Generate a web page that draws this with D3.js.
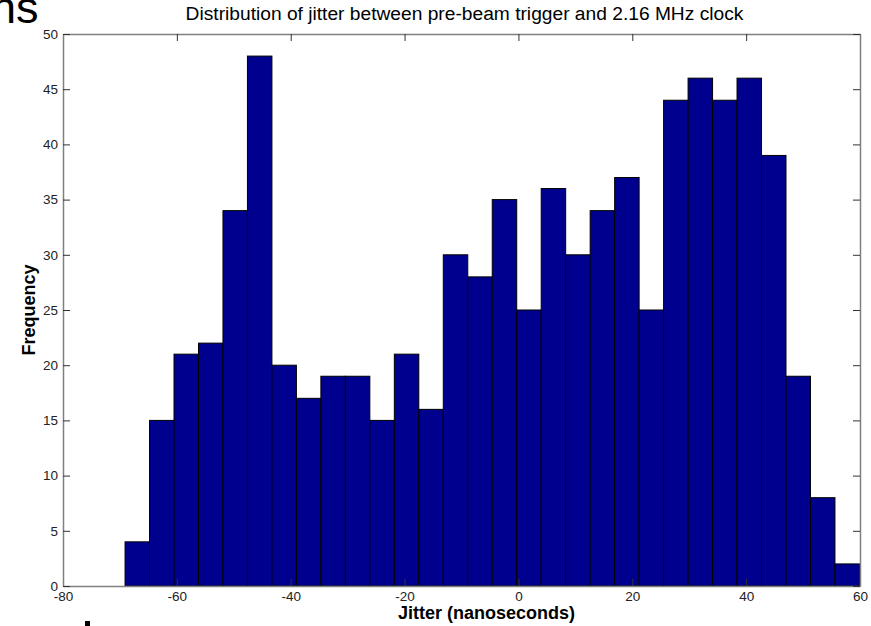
<!DOCTYPE html>
<html>
<head>
<meta charset="utf-8">
<script src="https://cdn.jsdelivr.net/npm/d3@7"></script>
<style>
  body { margin: 0; background: #fff; overflow: hidden; }
  svg { display: block; font-family: Arial, "Liberation Sans", sans-serif; }
</style>
</head>
<body>
<div class="div-chart"></div>
<script>
// histogram counts, 30 bins
const counts = [4, 15, 21, 22, 34, 48, 20, 17, 19, 19, 15, 21, 16, 30, 28,
                35, 25, 36, 30, 34, 37, 25, 44, 46, 44, 46, 39, 19, 8, 2];
const binStart = -69.1;
const binWidth = 4.3;
const xTicks = [-80, -60, -40, -20, 0, 20, 40, 60];
const yTicks = [0, 5, 10, 15, 20, 25, 30, 35, 40, 45, 50];

const width = 871, height = 626;
const margin = {left: 63, right: 11, top: 34, bottom: 40};
const innerWidth = width - margin.left - margin.right;
const innerHeight = height - margin.top - margin.bottom;

const svg = d3.select('.div-chart')
    .append('svg')
    .attr('width', width)
    .attr('height', height);

// cut-off slide text in the corner
svg.append('text')
    .attr('x', -9).attr('y', 23)
    .attr('font-size', 45)
    .text('ns');

svg.append('rect')
    .attr('x', 85).attr('y', 621).attr('width', 5).attr('height', 5)
    .attr('fill', '#000');

const g = svg.append('g')
    .attr('transform', `translate(${margin.left},${margin.top})`);

const xScale = d3.scaleLinear().domain([-80, 60]).range([0, innerWidth]);
const yScale = d3.scaleLinear().domain([0, 50]).range([innerHeight, 0]);

// bars
g.selectAll('.bar')
    .data(counts)
    .enter().append('rect')
    .attr('class', 'bar')
    .attr('x', (d, i) => xScale(binStart + i * binWidth))
    .attr('width', (d, i) => xScale(binStart + (i + 1) * binWidth) - xScale(binStart + i * binWidth))
    .attr('y', d => yScale(d))
    .attr('height', d => yScale(0) - yScale(d))
    .attr('fill', '#00008f')
    .attr('stroke', '#000')
    .attr('stroke-width', 1);

// axes, ticks pointing inward like matlab
const axisColor = '#808080';
const tickLen = 7;
const fmt = d => String(d);

const xAxis = g.append('g')
    .attr('transform', `translate(0,${innerHeight})`)
    .call(d3.axisBottom(xScale).tickValues(xTicks).tickFormat(fmt)
        .tickSize(-tickLen).tickSizeOuter(0).tickPadding(5));
const xTop = g.append('g')
    .call(d3.axisTop(xScale).tickValues(xTicks).tickSize(-tickLen).tickSizeOuter(0).tickFormat(''));
const yAxis = g.append('g')
    .call(d3.axisLeft(yScale).tickValues(yTicks).tickFormat(fmt)
        .tickSize(-tickLen).tickSizeOuter(0).tickPadding(5));
const yRight = g.append('g')
    .attr('transform', `translate(${innerWidth},0)`)
    .call(d3.axisRight(yScale).tickValues(yTicks).tickSize(-tickLen).tickSizeOuter(0).tickFormat(''));

[xAxis, xTop, yAxis, yRight].forEach(a => {
    a.select('.domain').attr('stroke', axisColor).attr('stroke-width', 1.5);
    a.selectAll('.tick line').attr('stroke', '#333');
    a.selectAll('.tick text').attr('fill', '#222').attr('font-size', 13.5)
        .attr('font-family', 'Arial, "Liberation Sans", sans-serif');
});

// labels
svg.append('text')
    .attr('x', margin.left + innerWidth / 2 + 3).attr('y', 20)
    .attr('text-anchor', 'middle')
    .attr('font-size', 19.2)
    .text('Distribution of jitter between pre-beam trigger and 2.16 MHz clock');

svg.append('text')
    .attr('x', margin.left + innerWidth / 2 + 25).attr('y', 619)
    .attr('text-anchor', 'middle')
    .attr('font-size', 18).attr('font-weight', 'bold')
    .text('Jitter (nanoseconds)');

svg.append('text')
    .attr('transform', `translate(35,${margin.top + innerHeight / 2}) rotate(-90)`)
    .attr('text-anchor', 'middle')
    .attr('font-size', 18).attr('font-weight', 'bold')
    .text('Frequency');
</script>
</body>
</html>
